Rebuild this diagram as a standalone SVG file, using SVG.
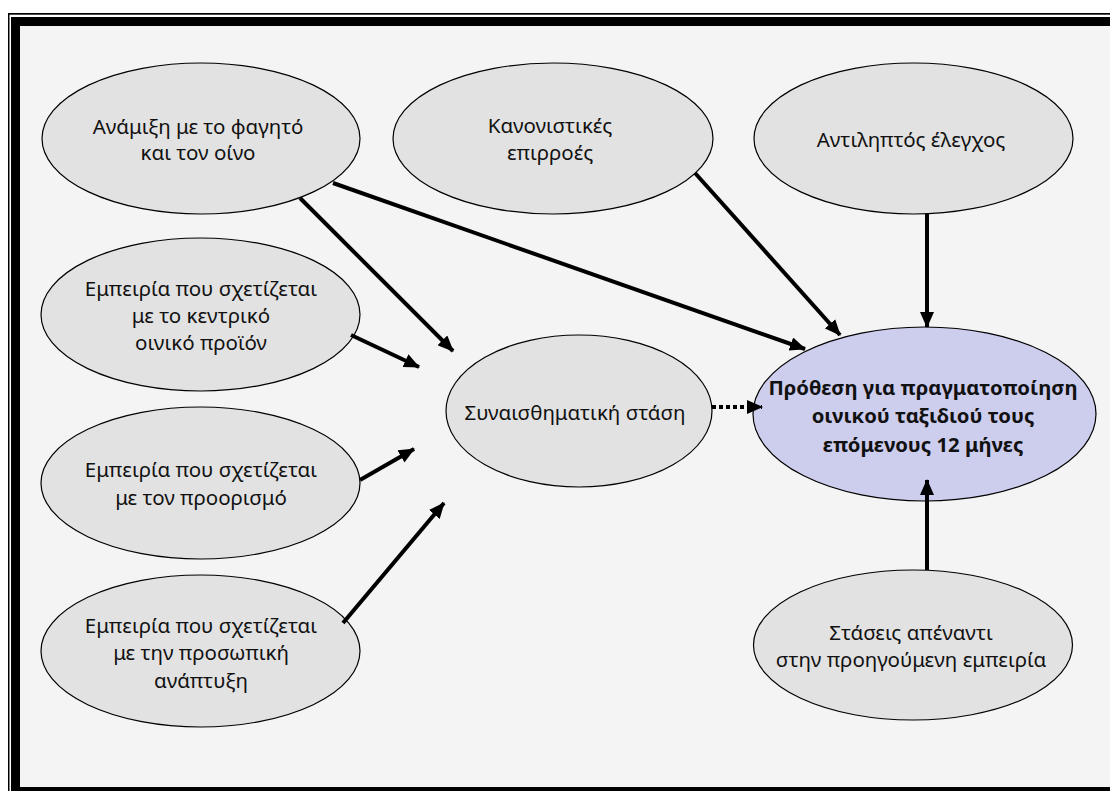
<svg xmlns="http://www.w3.org/2000/svg" width="1110" height="791" viewBox="0 0 1110 791">
  <style>
    .node { fill: #e2e2e2; stroke: #000; stroke-width: 1.2; }
    .goal { fill: #cdcdee; stroke: #000; stroke-width: 1.2; }
    .lbl { font-family: "Noto Sans", "Open Sans", sans-serif; font-size: 20.5px; fill: #111; text-anchor: middle; }
    .bold { font-weight: bold; font-size: 20.3px; }
    .arrow { stroke: #000; stroke-width: 4; fill: none; marker-end: url(#head); }
    .dotted { stroke-dasharray: 4 3; }
  </style>
  <defs>
    <marker id="head" markerUnits="userSpaceOnUse" viewBox="0 0 16 14" refX="15" refY="7" markerWidth="16" markerHeight="14" orient="auto">
      <path d="M0,0 L16,7 L0,14 Z" fill="#000"/>
    </marker>
  </defs>

  <!-- double frame -->
  <rect x="0" y="0" width="1110" height="791" fill="#fff"/>
  <rect x="8" y="13" width="1102" height="778" fill="#000"/>
  <rect x="9.5" y="14.7" width="1100.5" height="776.3" fill="#fff"/>
  <rect x="11" y="17" width="1099" height="774" fill="#000"/>
  <rect x="20" y="26" width="1090" height="761" fill="#f4f4f4"/>

  <g id="mixing">
    <ellipse class="node" cx="201" cy="138.5" rx="159" ry="75.5"/>
    <text class="lbl" x="198" y="134">Ανάμιξη με το φαγητό</text>
    <text class="lbl" x="198" y="160">και τον οίνο</text>
  </g>

  <g id="norms">
    <ellipse class="node" cx="553" cy="138.5" rx="160" ry="75.5"/>
    <text class="lbl" x="550" y="133">Κανονιστικές</text>
    <text class="lbl" x="550" y="160">επιρροές</text>
  </g>

  <g id="control">
    <ellipse class="node" cx="913.5" cy="138.5" rx="159.5" ry="75.5"/>
    <text class="lbl" x="911" y="147">Αντιληπτός έλεγχος</text>
  </g>

  <g id="product">
    <ellipse class="node" cx="200.5" cy="314.5" rx="159.5" ry="76.5"/>
    <text class="lbl" x="201" y="296">Εμπειρία που σχετίζεται</text>
    <text class="lbl" x="201" y="323">με το κεντρικό</text>
    <text class="lbl" x="201" y="350">οινικό προϊόν</text>
  </g>

  <g id="destination">
    <ellipse class="node" cx="200.5" cy="483" rx="159.5" ry="76"/>
    <text class="lbl" x="201" y="477">Εμπειρία που σχετίζεται</text>
    <text class="lbl" x="201" y="505">με τον προορισμό</text>
  </g>

  <g id="growth">
    <ellipse class="node" cx="200.5" cy="651" rx="159.5" ry="76"/>
    <text class="lbl" x="201" y="633">Εμπειρία που σχετίζεται</text>
    <text class="lbl" x="201" y="660">με την προσωπική</text>
    <text class="lbl" x="201" y="688">ανάπτυξη</text>
  </g>

  <g id="affect">
    <ellipse class="node" cx="579" cy="411" rx="133" ry="76"/>
    <text class="lbl" x="575" y="420">Συναισθηματική στάση</text>
  </g>

  <g id="intention">
    <ellipse class="goal" cx="924.5" cy="414" rx="171.5" ry="87"/>
    <text class="lbl bold" x="923" y="395">Πρόθεση για πραγματοποίηση</text>
    <text class="lbl bold" x="923" y="423">οινικού ταξιδιού τους</text>
    <text class="lbl bold" x="923" y="452">επόμενους 12 μήνες</text>
  </g>

  <g id="past">
    <ellipse class="node" cx="913" cy="645" rx="159.5" ry="75"/>
    <text class="lbl" x="911" y="640">Στάσεις απέναντι</text>
    <text class="lbl" x="911" y="667">στην προηγούμενη εμπειρία</text>
  </g>

  <!-- connectors, drawn over the ellipses so heads that reach inside stay visible -->
  <g id="connectors">
    <line class="arrow" x1="300" y1="198" x2="453" y2="351"/>
    <line class="arrow" x1="333" y1="183" x2="805" y2="349"/>
    <line class="arrow" x1="351" y1="335" x2="419" y2="367"/>
    <line class="arrow" x1="360" y1="480" x2="414" y2="449"/>
    <line class="arrow" x1="343" y1="623" x2="444" y2="503"/>
    <line class="arrow" x1="695" y1="173" x2="840" y2="335"/>
    <line class="arrow" x1="927" y1="214" x2="927" y2="327"/>
    <line class="arrow" x1="927" y1="570" x2="927" y2="480"/>
    <line class="arrow dotted" x1="712" y1="407" x2="762" y2="407"/>
  </g>
</svg>
